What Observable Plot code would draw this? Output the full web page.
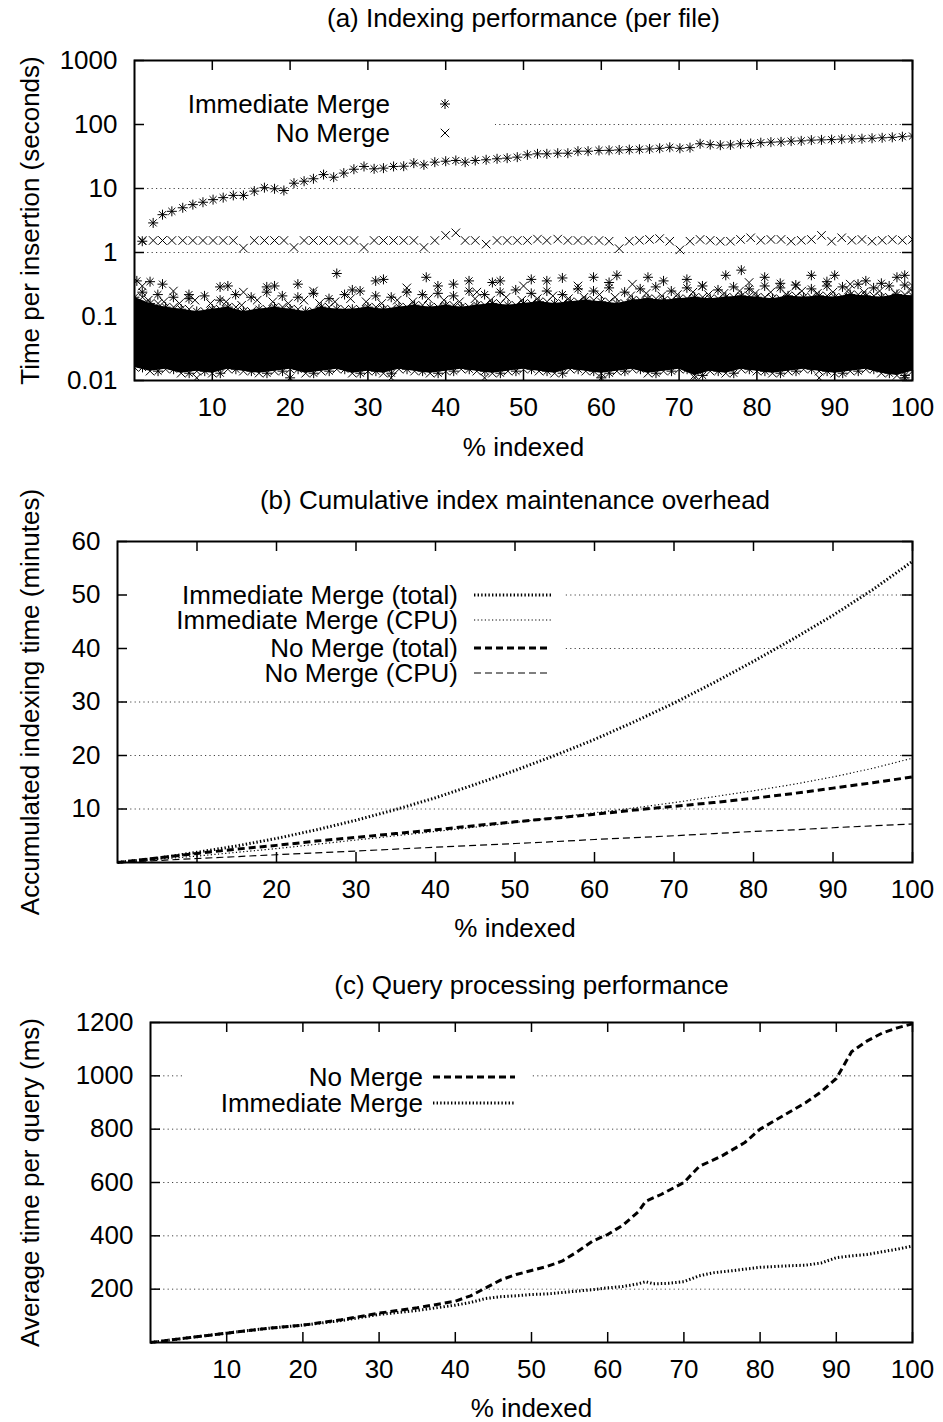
<!DOCTYPE html>
<html><head><meta charset="utf-8">
<script src="https://cdn.jsdelivr.net/npm/d3@7"></script>
<script src="https://cdn.jsdelivr.net/npm/@observablehq/plot@0.6"></script>
<style>
html,body{margin:0;padding:0;background:#fff;width:943px;}
svg{display:block;}
</style>
</head><body><div id="root"></div>
<script>
// ---------------- shared ----------------
const xLabelText = "% indexed";
const xTickValues = [10, 20, 30, 40, 50, 60, 70, 80, 90, 100];

// ---------------- panel (a) ----------------
const titleA = "(a) Indexing performance (per file)";
const yLabelA = "Time per insertion (seconds)";
const yTicksA = [0.01, 0.1, 1, 10, 100, 1000];
const legendA = ["Immediate Merge", "No Merge"];
// periodic large insertions (one point per merge event)
const eventPct = [1.0, 2.4, 3.6, 4.8, 6.2, 7.5, 8.8, 10.1, 11.4, 12.7,
  14.0, 15.4, 16.7, 18.0, 19.2, 20.5, 21.8, 23.0, 24.3, 25.6,
  26.9, 28.2, 29.5, 30.8, 32.0, 33.3, 34.6, 35.9, 37.2, 38.6,
  40.0, 41.3, 42.5, 43.8, 45.2, 46.6, 47.9, 49.2, 50.5, 51.8,
  53.0, 54.4, 55.7, 57.0, 58.3, 59.7,
  61.0, 62.3, 63.6, 64.9, 66.2, 67.5, 68.8, 70.1, 71.4, 72.7,
  74.0, 75.3, 76.6, 77.9, 79.2, 80.5, 81.8, 83.1, 84.4, 85.7,
  87.0, 88.3, 89.6, 90.9, 92.2, 93.5, 94.8, 96.1, 97.4, 98.7, 100.0];
const immEventSec = [1.5, 2.9, 3.9, 4.4, 5.0, 5.6, 6.1, 6.7, 7.2, 7.8,
  7.8, 9.1, 10.3, 9.9, 9.3, 12.1, 13.0, 14.2, 16.5, 15.0,
  17.4, 20.0, 22.1, 20.3, 20.8, 22.1, 22.3, 24.9, 23.4, 25.8,
  26.7, 27.4, 25.8, 27.4, 28.1, 29.1, 29.8, 30.9, 33.6, 34.8,
  34.8, 35.6, 35.6, 38.3, 38.3, 39.3,
  39.5, 40, 40.5, 41, 41.5, 42.5, 44, 42.5, 43.5, 50,
  48.5, 47.5, 48, 50, 50.5, 52, 53, 53.5, 55, 55.5,
  57, 57.5, 58, 59, 59.5, 60, 61, 62, 63, 64.5, 66];
const noEventSec = [1.54, 1.54, 1.54, 1.54, 1.54, 1.54, 1.54, 1.54, 1.54, 1.54,
  1.17, 1.54, 1.54, 1.54, 1.54, 1.2, 1.54, 1.54, 1.54, 1.54,
  1.54, 1.54, 1.2, 1.54, 1.54, 1.54, 1.54, 1.54, 1.2, 1.54,
  1.85, 2.03, 1.54, 1.54, 1.35, 1.54, 1.54, 1.54, 1.54, 1.62,
  1.54, 1.62, 1.54, 1.54, 1.54, 1.54,
  1.5, 1.15, 1.5, 1.55, 1.6, 1.65, 1.5, 1.1, 1.5, 1.6,
  1.55, 1.5, 1.5, 1.6, 1.7, 1.55, 1.6, 1.6, 1.5, 1.55,
  1.6, 1.85, 1.5, 1.7, 1.55, 1.6, 1.5, 1.55, 1.6, 1.55, 1.6];
// dense cloud of ordinary insertions (both methods): extent per column
const cloudPct = [0, 2, 4, 6, 8, 10, 12, 14, 16, 18, 20, 22, 24, 26, 28, 30, 32, 34, 36, 38, 40,
  42, 44, 46, 48, 50, 52, 54, 56, 58, 60, 62, 64, 66, 68, 70, 72, 74, 76, 78, 80,
  82, 84, 86, 88, 90, 92, 94, 96, 98, 100];
const cloudHighSec = [0.2, 0.16, 0.14, 0.13, 0.12, 0.13, 0.14, 0.12, 0.13, 0.14, 0.13,
  0.12, 0.14, 0.13, 0.13, 0.14, 0.13, 0.14, 0.15, 0.14, 0.15,
  0.14, 0.15, 0.16, 0.15, 0.16, 0.17, 0.16, 0.17, 0.18, 0.17,
  0.16, 0.18, 0.19, 0.18, 0.19, 0.2, 0.19, 0.2, 0.21, 0.2,
  0.19, 0.21, 0.2, 0.21, 0.2, 0.22, 0.21, 0.2, 0.22, 0.21];
const cloudLowSec = [0.016, 0.014, 0.015, 0.013, 0.014, 0.013, 0.015, 0.014, 0.013, 0.014, 0.015,
  0.013, 0.014, 0.015, 0.013, 0.014, 0.013, 0.015, 0.014, 0.013, 0.014,
  0.015, 0.014, 0.013, 0.014, 0.015, 0.014, 0.013, 0.015, 0.014, 0.013,
  0.014, 0.015, 0.013, 0.014, 0.015, 0.012, 0.014, 0.013, 0.015, 0.014,
  0.013, 0.014, 0.015, 0.014, 0.013, 0.014, 0.015, 0.013, 0.012, 0.014];
// looser spray of points just above the dense cloud
const sprayPct = [1, 3, 5, 7, 9, 11, 13, 15, 17, 19, 21, 23, 25, 27, 29, 31, 33, 35, 37, 39,
  41, 43, 45, 47, 49, 51, 53, 55, 57, 59, 61, 63, 65, 67, 69, 71, 73, 75, 77, 79,
  81, 83, 85, 87, 89, 91, 93, 95, 97, 99];
const immSpraySec = [0.24, 0.22, 0.2, 0.19, 0.21, 0.18, 0.22, 0.2, 0.24, 0.21,
  0.2, 0.23, 0.19, 0.22, 0.25, 0.21, 0.2, 0.24, 0.22, 0.23,
  0.21, 0.25, 0.22, 0.24, 0.26, 0.23, 0.25, 0.22, 0.27, 0.25,
  0.28, 0.24, 0.27, 0.29, 0.25, 0.28, 0.3, 0.26, 0.29, 0.27,
  0.3, 0.28, 0.31, 0.27, 0.3, 0.29, 0.32, 0.28, 0.3, 0.31];
const noSpraySec = [0.18, 0.17, 0.16, 0.18, 0.16, 0.17, 0.15, 0.18, 0.17, 0.16,
  0.18, 0.16, 0.17, 0.19, 0.17, 0.16, 0.18, 0.17, 0.19, 0.18,
  0.17, 0.19, 0.18, 0.2, 0.18, 0.19, 0.21, 0.19, 0.2, 0.22,
  0.2, 0.21, 0.23, 0.21, 0.22, 0.24, 0.22, 0.23, 0.25, 0.23,
  0.24, 0.22, 0.25, 0.23, 0.24, 0.26, 0.24, 0.25, 0.23, 0.26];
const immOutPct = [0.3, 2, 3.6, 7, 11, 12, 17, 18, 21, 26, 28, 31, 32, 37.5, 39, 41, 43, 46, 47, 51,
  53, 55, 59, 61, 62, 66, 68, 71, 76, 78, 81, 83, 87, 89, 90, 94, 96, 98, 99, 20, 60, 99];
const immOutSec = [0.36, 0.35, 0.32, 0.22, 0.29, 0.3, 0.29, 0.3, 0.32, 0.47, 0.26, 0.36, 0.38, 0.41, 0.3, 0.32, 0.36, 0.34, 0.36, 0.38,
  0.36, 0.4, 0.41, 0.34, 0.44, 0.41, 0.36, 0.38, 0.44, 0.53, 0.41, 0.33, 0.44, 0.35, 0.44, 0.36, 0.33, 0.41, 0.44, 0.011, 0.011, 0.011];
const noOutPct = [1, 5, 14, 23, 35, 44, 50, 57, 64, 73, 79, 85, 92, 100, 8, 33, 45, 72, 88];
const noOutSec = [0.3, 0.25, 0.24, 0.25, 0.28, 0.24, 0.3, 0.3, 0.32, 0.3, 0.34, 0.3, 0.32, 0.3, 0.011, 0.011, 0.011, 0.011, 0.011];

// ---------------- panel (b) ----------------
const titleB = "(b) Cumulative index maintenance overhead";
const yLabelB = "Accumulated indexing time (minutes)";
const yTicksB = [10, 20, 30, 40, 50, 60];
const legendB = ["Immediate Merge (total)", "Immediate Merge (CPU)", "No Merge (total)", "No Merge (CPU)"];
const pctB = [0, 5, 10, 15, 20, 25, 30, 35, 40, 45, 50, 55, 60, 65, 70, 75, 80, 85, 90, 95, 100];
const immTotalMin = [0, 0.8, 1.9, 3.1, 4.5, 6.1, 7.9, 9.9, 12.1, 14.6, 17.2, 20.0, 23.0, 26.3, 29.8, 33.6, 37.6, 41.8, 46.2, 51.0, 56.3];
const immCpuMin = [0, 0.6, 1.2, 1.9, 2.6, 3.4, 4.2, 5.0, 5.8, 6.6, 7.5, 8.4, 9.3, 10.2, 11.2, 12.3, 13.4, 14.6, 16.0, 17.6, 19.5];
const noTotalMin = [0, 0.85, 1.7, 2.5, 3.2, 4.0, 4.7, 5.4, 6.1, 6.9, 7.6, 8.3, 9.0, 9.8, 10.5, 11.2, 12.0, 12.9, 13.9, 14.9, 16.0];
const noCpuMin = [0, 0.37, 0.75, 1.1, 1.45, 1.8, 2.15, 2.5, 2.85, 3.2, 3.55, 3.9, 4.3, 4.65, 5.0, 5.4, 5.8, 6.1, 6.5, 6.85, 7.2];

// ---------------- panel (c) ----------------
const titleC = "(c) Query processing performance";
const yLabelC = "Average time per query (ms)";
const yTicksC = [200, 400, 600, 800, 1000, 1200];
const legendC = ["No Merge", "Immediate Merge"];
const noQueryPct = [0, 5, 10, 15, 20, 25, 30, 35, 40, 42, 44, 46, 48, 50, 52, 54, 56, 58, 60, 62, 64, 65, 67, 70, 72, 75, 78, 80, 83, 86, 88, 90, 91, 92, 94, 96, 98, 100];
const noQueryMs = [0, 18, 35, 52, 65, 85, 110, 130, 155, 175, 205, 235, 255, 270, 285, 305, 340, 380, 405, 440, 490, 530, 555, 600, 660, 700, 750, 800, 850, 900, 940, 990, 1040, 1090, 1130, 1160, 1180, 1195];
const immQueryPct = [0, 5, 10, 15, 20, 25, 30, 35, 40, 42, 44, 46, 48, 50, 52, 55, 58, 60, 62, 64, 65, 66, 68, 70, 72, 74, 76, 78, 80, 82, 84, 86, 88, 90, 92, 94, 96, 98, 100];
const immQueryMs = [0, 18, 35, 52, 65, 82, 105, 120, 140, 150, 165, 172, 175, 180, 182, 190, 198, 205, 210, 220, 228, 220, 222, 228, 250, 262, 268, 275, 282, 285, 288, 290, 298, 318, 325, 330, 340, 350, 362];

// ---------------- styling helpers ----------------
const FONT = "'Liberation Sans', Arial, Helvetica, sans-serif";
const FS = 26;
const W = 943;
const star8 = {draw(ctx, size) {
  const r = Math.sqrt(size / Math.PI), d = r * Math.SQRT1_2;
  ctx.moveTo(-r, 0); ctx.lineTo(r, 0); ctx.moveTo(0, -r); ctx.lineTo(0, r);
  ctx.moveTo(-d, -d); ctx.lineTo(d, d); ctx.moveTo(-d, d); ctx.lineTo(d, -d);
}};
const cross = {draw(ctx, size) {
  const r = Math.sqrt(size / Math.PI) * 0.85;
  ctx.moveTo(-r, -r); ctx.lineTo(r, r); ctx.moveTo(-r, r); ctx.lineTo(r, -r);
}};
const STY = {
  thickDot: {stroke: "black", strokeWidth: 3, strokeDasharray: "1.4,2.2", strokeLinecap: "butt"},
  thinDot: {stroke: "black", strokeWidth: 1.2, strokeDasharray: "1.2,2.4", strokeLinecap: "butt"},
  thickDash: {stroke: "black", strokeWidth: 3, strokeDasharray: "7,4", strokeLinecap: "butt"},
  thinDash: {stroke: "black", strokeWidth: 1.2, strokeDasharray: "7,4", strokeLinecap: "butt"}
};

function legendBox(x0, y0, x1, y1) {
  return () => {
    const g = d3.create("svg:g");
    g.append("rect").attr("x", x0).attr("y", y0).attr("width", x1 - x0).attr("height", y1 - y0).attr("fill", "white");
    return g.node();
  };
}
function legendItems(items) {
  return () => {
    const g = d3.create("svg:g").attr("font-family", FONT).attr("font-size", FS).attr("fill", "black");
    for (const it of items) {
      g.append("text").attr("x", it.tx).attr("y", it.y).attr("dy", "0.36em").attr("text-anchor", "end").text(it.label);
      if (it.symbol) {
        g.append("path").attr("transform", `translate(${it.sx},${it.y})`)
          .attr("d", d3.symbol(it.symbol, 25 * Math.PI)()).attr("fill", "none").attr("stroke", "black").attr("stroke-width", 1);
      } else {
        g.append("line").attr("x1", it.sx).attr("x2", it.sx2).attr("y1", it.y).attr("y2", it.y)
          .attr("stroke", "black").attr("stroke-width", it.style.strokeWidth).attr("stroke-dasharray", it.style.strokeDasharray);
      }
    }
    return g.node();
  };
}

function panel(o) {
  const mr = 31;
  const innerW = W - o.ml - mr;
  const innerH = o.height - o.mt - o.mb;
  const tickSty = {stroke: "black", strokeWidth: 1.5};
  return Plot.plot({
    width: W, height: o.height,
    marginTop: o.mt, marginBottom: o.mb, marginLeft: o.ml, marginRight: mr,
    style: {fontFamily: FONT, fontSize: FS + "px", color: "black", background: "white", overflow: "visible"},
    x: {domain: [0, 100]},
    y: o.y,
    marks: [
      Plot.ruleY(o.yTicks, {y: d => d, stroke: "#444", strokeWidth: 1, strokeDasharray: "1.2,3.2"}),
      o.box,
      ...o.data,
      o.legend,
      Plot.tickX(xTickValues, {x: d => d, insetTop: innerH - 10, ...tickSty}),
      Plot.tickX(xTickValues, {x: d => d, insetBottom: innerH - 10, ...tickSty}),
      Plot.tickY(o.yTicks, {y: d => d, insetRight: innerW - 10, ...tickSty}),
      Plot.tickY(o.yTicks, {y: d => d, insetLeft: innerW - 10, ...tickSty}),
      Plot.frame({stroke: "black", strokeWidth: 2}),
      Plot.axisX({ticks: xTickValues, tickSize: 0, tickPadding: 17, tickFormat: d => String(d), label: null, fontSize: FS}),
      Plot.axisY({ticks: o.yTicks, tickSize: 0, tickPadding: 17, tickFormat: d => String(d), label: null, fontSize: FS}),
      Plot.text([o.title], {text: d => d, frameAnchor: "top", dy: o.titleDy, lineAnchor: "middle", textAnchor: "middle", fontSize: FS}),
      Plot.text([xLabelText], {text: d => d, frameAnchor: "bottom", dy: o.xLabelDy, lineAnchor: "middle", textAnchor: "middle", fontSize: FS}),
      Plot.text([o.yLabel], {text: d => d, frameAnchor: "left", dx: o.yLabelDx, rotate: -90, lineAnchor: "middle", textAnchor: "middle", fontSize: FS})
    ]
  });
}

const root = document.getElementById("root");

// (a)
const dotSty = {fill: "none", stroke: "black", strokeWidth: 1, r: 5, clip: true};
root.append(panel({
  height: 470, mt: 60, mb: 90, ml: 134, titleDy: -42, xLabelDy: 67, yLabelDx: -104,
  title: titleA, yLabel: yLabelA, yTicks: yTicksA,
  y: {type: "log", domain: [0.01, 1000]},
  box: legendBox(136, 88, 495, 148),
  data: [
    Plot.areaY(cloudPct, {x: d => d, y1: (d, i) => cloudLowSec[i], y2: (d, i) => cloudHighSec[i], fill: "black", clip: true}),
    Plot.dot(cloudPct, {x: d => d, y: (d, i) => cloudHighSec[i], symbol: star8, ...dotSty}),
    Plot.dot(cloudPct, {x: d => d, dx: 8, y: (d, i) => cloudHighSec[i], symbol: cross, ...dotSty}),
    Plot.dot(cloudPct, {x: d => d, y: (d, i) => cloudLowSec[i], symbol: cross, ...dotSty}),
    Plot.dot(cloudPct, {x: d => d, dx: 8, y: (d, i) => cloudLowSec[i], symbol: star8, ...dotSty}),
    Plot.dot(sprayPct, {x: d => d, y: (d, i) => immSpraySec[i], symbol: star8, ...dotSty}),
    Plot.dot(sprayPct, {x: d => d, dx: 6, y: (d, i) => noSpraySec[i], symbol: cross, ...dotSty}),
    Plot.dot(immOutPct, {x: d => d, y: (d, i) => immOutSec[i], symbol: star8, ...dotSty}),
    Plot.dot(noOutPct, {x: d => d, y: (d, i) => noOutSec[i], symbol: cross, ...dotSty}),
    Plot.dot(eventPct, {x: d => d, y: (d, i) => noEventSec[i], symbol: cross, ...dotSty}),
    Plot.dot(eventPct, {x: d => d, y: (d, i) => immEventSec[i], symbol: star8, ...dotSty})
  ],
  legend: legendItems([
    {label: legendA[0], tx: 390, y: 104, sx: 445, symbol: star8},
    {label: legendA[1], tx: 390, y: 133, sx: 445, symbol: cross}
  ])
}));

// (b)
root.append(panel({
  height: 485, mt: 71, mb: 93, ml: 117, titleDy: -41, xLabelDy: 66, yLabelDx: -87,
  title: titleB, yLabel: yLabelB, yTicks: yTicksB,
  y: {domain: [0, 60]},
  box: legendBox(119, 108, 565, 218),
  data: [
    Plot.line(pctB, {x: d => d, y: (d, i) => noCpuMin[i], ...STY.thinDash}),
    Plot.line(pctB, {x: d => d, y: (d, i) => immCpuMin[i], ...STY.thinDot}),
    Plot.line(pctB, {x: d => d, y: (d, i) => noTotalMin[i], ...STY.thickDash}),
    Plot.line(pctB, {x: d => d, y: (d, i) => immTotalMin[i], ...STY.thickDot})
  ],
  legend: legendItems([
    {label: legendB[0], tx: 458, y: 125, sx: 474, sx2: 551, style: STY.thickDot},
    {label: legendB[1], tx: 458, y: 150, sx: 474, sx2: 551, style: STY.thinDot},
    {label: legendB[2], tx: 458, y: 178, sx: 474, sx2: 551, style: STY.thickDash},
    {label: legendB[3], tx: 458, y: 203, sx: 474, sx2: 551, style: STY.thinDash}
  ])
}));

// (c)
root.append(panel({
  height: 467, mt: 67, mb: 80, ml: 150, titleDy: -37, xLabelDy: 66, yLabelDx: -120,
  title: titleC, yLabel: yLabelC, yTicks: yTicksC,
  y: {domain: [0, 1200]},
  box: legendBox(183, 107, 530, 163),
  data: [
    Plot.line(immQueryPct, {x: d => d, y: (d, i) => immQueryMs[i], ...STY.thickDot}),
    Plot.line(noQueryPct, {x: d => d, y: (d, i) => noQueryMs[i], ...STY.thickDash})
  ],
  legend: legendItems([
    {label: legendC[0], tx: 423, y: 122, sx: 433, sx2: 515, style: STY.thickDash},
    {label: legendC[1], tx: 423, y: 148, sx: 433, sx2: 515, style: STY.thickDot}
  ])
}));
</script></body></html>
